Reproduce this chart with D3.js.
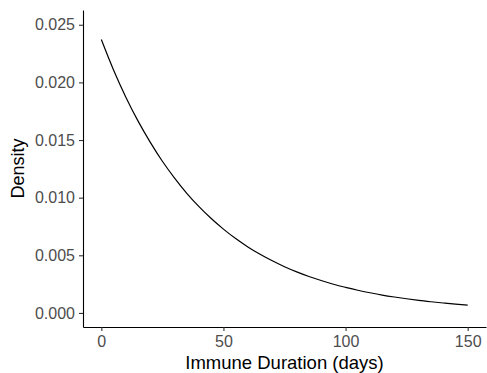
<!DOCTYPE html>
<html>
<head>
<meta charset="utf-8">
<script src="https://cdn.jsdelivr.net/npm/d3@7"></script>
<style>
  body { margin: 0; background: #fff; }
  svg { display: block; font-family: "Liberation Sans", Arial, sans-serif; }
</style>
</head>
<body>
<div class="graph"></div>
<script>
// density curve, every 5 days
var days = [0, 5, 10, 15, 20, 25, 30, 35, 40, 45, 50, 55, 60, 65, 70, 75,
            80, 85, 90, 95, 100, 105, 110, 115, 120, 125, 130, 135, 140, 145, 150];
var density = [0.02372, 0.02108, 0.01874, 0.01666, 0.01482, 0.01316, 0.01170, 0.01038,
               0.00922, 0.00819, 0.00727, 0.00645, 0.00573, 0.00509, 0.00452, 0.00401,
               0.00356, 0.00316, 0.00281, 0.00249, 0.00222, 0.00197, 0.00175, 0.00155,
               0.00138, 0.00123, 0.00109, 0.00097, 0.00086, 0.00076, 0.00068];
var xTicks = [0, 50, 100, 150];
var yTicks = [0, 0.005, 0.010, 0.015, 0.020, 0.025];

var width = 487;
var height = 373;
var panelLeft = 83, panelRight = 486, panelTop = 10, panelBottom = 327;

var svg = d3.select(".graph").append("svg")
  .attr("width", width)
  .attr("height", height);

var x = d3.scaleLinear()
  .domain([-7.5, 157.5])
  .range([panelLeft, panelRight]);

var y = d3.scaleLinear()
  .domain([-0.00122, 0.02628])
  .range([panelBottom, panelTop]);

var data = days.map(function (d, i) {
  return {day: d, dens: density[i]};
});

var line = d3.line()
  .x(d => x(d.day))
  .y(d => y(d.dens))
  .curve(d3.curveMonotoneX);

svg.append("path")
  .datum(data)
  .attr("fill", "none")
  .attr("stroke", "black")
  .attr("stroke-width", 1.2)
  .attr("d", line);

var xAxis = d3.axisBottom(x)
  .tickValues(xTicks)
  .tickFormat(d3.format("d"))
  .tickSize(4)
  .tickPadding(5)
  .tickSizeOuter(0);

var yAxis = d3.axisLeft(y)
  .tickValues(yTicks)
  .tickFormat(d3.format(".3f"))
  .tickSize(4)
  .tickPadding(4)
  .tickSizeOuter(0);

var xAxisGroup = svg.append("g")
  .attr("transform", "translate(0," + panelBottom + ")")
  .call(xAxis);

var yAxisGroup = svg.append("g")
  .attr("transform", "translate(" + panelLeft + ",0)")
  .call(yAxis);

[xAxisGroup, yAxisGroup].forEach(function (g) {
  g.select(".domain").attr("stroke", "black").attr("stroke-width", 1.1);
  g.selectAll(".tick line").attr("stroke", "#333").attr("stroke-width", 1.1);
  g.selectAll(".tick text")
    .attr("fill", "#4d4d4d")
    .style("font-size", "16px")
    .style("font-family", "'Liberation Sans', Arial, sans-serif");
});

svg.append("text")
  .attr("x", (panelLeft + panelRight) / 2)
  .attr("y", 369)
  .attr("text-anchor", "middle")
  .style("font-size", "18.5px")
  .text("Immune Duration (days)");

svg.append("text")
  .attr("transform", "translate(24," + (panelTop + panelBottom) / 2 + ") rotate(-90)")
  .attr("text-anchor", "middle")
  .style("font-size", "18px")
  .text("Density");
</script>
</body>
</html>
